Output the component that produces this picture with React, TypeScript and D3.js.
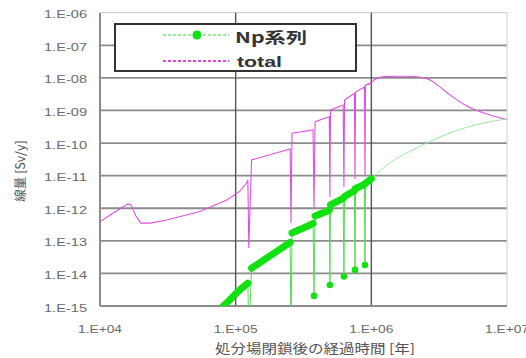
import React from 'react';
import * as d3 from 'd3';

const xTickValues = [1e4, 1e5, 1e6, 1e7];
const xTickLabels = ['1.E+04', '1.E+05', '1.E+06', '1.E+07'];
const yTickValues = [1e-6, 1e-7, 1e-8, 1e-9, 1e-10, 1e-11, 1e-12, 1e-13, 1e-14, 1e-15];
const yTickLabels = ['1.E-06', '1.E-07', '1.E-08', '1.E-09', '1.E-10', '1.E-11', '1.E-12', '1.E-13', '1.E-14', '1.E-15'];
const darkGridTimes = [1e5, 1e6];

const dipTimes = [1.25e5, 2.56e5, 3.78e5, 4.95e5, 6.28e5, 7.58e5, 8.98e5];

const npTime = [8.0e4, 9.0e4, 1.0e5, 1.1e5, 1.23e5, 1.25e5, 1.31e5, 1.5e5, 1.8e5, 2.1e5, 2.52e5, 2.56e5,
  2.6e5, 3.0e5, 3.4e5, 3.72e5, 3.78e5, 3.85e5, 4.4e5, 4.9e5, 4.95e5, 5.0e5, 5.6e5, 6.2e5, 6.28e5,
  6.35e5, 7.5e5, 7.58e5, 7.65e5, 8.9e5, 8.98e5, 9.05e5, 1.0e6];
const npValue = [9.4e-16, 1.5e-15, 2.37e-15, 3.44e-15, 5.0e-15, 1e-16, 1.44e-14, 2.1e-14, 3.5e-14, 5.4e-14, 9.0e-14, 1e-16,
  1.75e-13, 2.25e-13, 2.86e-13, 3.42e-13, 2.04e-15, 5.8e-13, 7.2e-13, 8.7e-13, 4.4e-15, 1.26e-12, 1.62e-12, 2.0e-12, 8.0e-15,
  2.3e-12, 3.44e-12, 1.28e-14, 4.05e-12, 5.37e-12, 1.82e-14, 5.85e-12, 7.94e-12];
const npTailTime = [1.0e6, 1.2e6, 1.4e6, 2.17e6, 3.8e6, 6.65e6, 1.0e7];
const npTailValue = [7.94e-12, 1.6e-11, 2.6e-11, 7.1e-11, 2.04e-10, 4.1e-10, 5.5e-10];

const totalTime = [1.0e4, 1.29e4, 1.61e4, 1.69e4, 1.84e4, 2.0e4, 2.34e4, 3.1e4, 5.46e4, 8.6e4, 1.08e5, 1.2e5, 1.23e5,
  1.25e5, 1.31e5, 2.52e5, 2.56e5, 2.6e5, 3.72e5, 3.78e5, 3.85e5, 4.9e5, 4.95e5, 5.0e5, 6.2e5, 6.28e5, 6.35e5, 7.5e5,
  7.58e5, 7.65e5, 8.9e5, 8.98e5, 9.05e5, 1.0e6, 1.05e6, 1.25e6, 1.6e6, 2.0e6, 2.45e6, 2.7e6, 3.2e6, 3.8e6, 5.05e6, 7.5e6, 1.0e7];
const totalValue = [3.9e-13, 7.7e-13, 1.36e-12, 1.26e-12, 5.8e-13, 3.5e-13, 3.5e-13, 4.37e-13, 7.9e-13, 1.8e-12, 3.4e-12, 5.85e-12, 7.4e-12,
  6.05e-14, 3.03e-11, 6.6e-11, 3.54e-13, 2.0e-10, 2.52e-10, 1.02e-12, 4.53e-10, 6.45e-10, 2.22e-12, 1.04e-9, 1.47e-9, 4.5e-12, 2.1e-9, 3.37e-9,
  7.9e-12, 3.7e-9, 5.26e-9, 1.05e-11, 6.05e-9, 7.0e-9, 8.8e-9, 1.09e-8, 1.12e-8, 1.1e-8, 1.0e-8, 8.6e-9, 5.3e-9, 3.0e-9, 1.37e-9, 7.3e-10, 5.3e-10];

const seriesNames = ['Np系列', 'total'];
const xTitle = '処分場閉鎖後の経過時間 [年]';
const yTitle = '線量 [Sv/y]';

const L = 100, R = 507, T = 12.7, B = 306;

export default function App() {
  const x = d3.scaleLog().domain([1e4, 1e7]).range([L, R]);
  const y = d3.scaleLog().domain([1e-15, 1e-6]).range([B, T]);
  const line = d3.line<[number, number]>().x(d => x(d[0])).y(d => y(d[1]));
  const smooth = d3.line<[number, number]>().x(d => x(d[0])).y(d => y(d[1])).curve(d3.curveMonotoneX);

  const npPts: [number, number][] = npTime.map((t, i) => [t, npValue[i]]);
  const isDip = (t: number) => dipTimes.includes(t);
  const runs: [number, number][][] = [];
  let cur: [number, number][] = [];
  npPts.forEach(p => {
    if (isDip(p[0])) { if (cur.length) runs.push(cur); cur = []; }
    else cur.push(p);
  });
  if (cur.length) runs.push(cur);
  const dipPts = npPts.filter(p => isDip(p[0]));
  const tailPts: [number, number][] = npTailTime.map((t, i) => [t, npTailValue[i]]);
  const totalPts: [number, number][] = totalTime.map((t, i) => [t, totalValue[i]]);
  const totalEarly = totalPts.filter(p => p[0] <= 1e6);
  const totalLate = totalPts.filter(p => p[0] >= 9.05e5);

  const tickFont = '"Liberation Sans", Arial, sans-serif';
  const cjkFont = '"Noto Sans CJK JP", sans-serif';

  return (
    <svg width={526} height={358} style={{ position: 'absolute', left: 0, top: 0, background: '#fff' }}>
      <defs>
        <clipPath id="plot"><rect x={L} y={T - 1} width={R - L} height={B - T + 1} /></clipPath>
      </defs>
      <rect x={0} y={0} width={526} height={358} fill="#fff" />
      {yTickValues.map((v, i) => (
        <line key={'h' + i} x1={L} x2={R} y1={y(v)} y2={y(v)}
          stroke={i === 0 ? '#c8c8c8' : '#8c8c8c'} strokeWidth={i === 0 ? 1 : 1.8} />
      ))}
      <line x1={R} x2={R} y1={T} y2={B} stroke="#cfcfcf" strokeWidth={1} />
      {darkGridTimes.map((t, i) => (
        <line key={'v' + i} x1={x(t)} x2={x(t)} y1={T} y2={B} stroke="#555" strokeWidth={1.4} />
      ))}
      <line x1={L} x2={L} y1={T} y2={B} stroke="#8c8c8c" strokeWidth={2} />
      <line x1={L} x2={R} y1={B} y2={B} stroke="#8c8c8c" strokeWidth={2} />

      <g clipPath="url(#plot)">
        <path d={line(totalEarly) || ''} fill="none" stroke="#e050e0" strokeWidth={1.1} />
        <path d={smooth(totalLate) || ''} fill="none" stroke="#e050e0" strokeWidth={1.1} />
        <path d={smooth(tailPts) || ''} fill="none" stroke="#9ae89a" strokeWidth={1} />
        <path d={line(npPts) || ''} fill="none" stroke="#55dd55" strokeWidth={1} />
        {runs.map((r, i) => (
          <path key={'r' + i} d={line(r) || ''} fill="none" stroke="#11e011" strokeWidth={7}
            strokeLinecap="round" strokeLinejoin="round" />
        ))}
        {dipPts.map((p, i) => (
          <circle key={'d' + i} cx={x(p[0])} cy={y(p[1])} r={3.3} fill="#11e011" />
        ))}
      </g>

      {yTickValues.map((v, i) => (
        <text key={'yl' + i} x={44} y={y(v) + 5.5} fontFamily={tickFont} fontSize={10} fill="#6a6a6a"
          textLength={43} lengthAdjust="spacingAndGlyphs">{yTickLabels[i]}</text>
      ))}
      {xTickValues.map((t, i) => (
        <text key={'xl' + i} x={x(t) - 22} y={333} fontFamily={tickFont} fontSize={10} fill="#6a6a6a"
          textLength={44} lengthAdjust="spacingAndGlyphs">{xTickLabels[i]}</text>
      ))}

      <text x={215} y={353} fontFamily={cjkFont} fontSize={13} fill="#555" textLength={200}
        lengthAdjust="spacingAndGlyphs">{xTitle}</text>
      <text transform="translate(25,171) rotate(-90)" textAnchor="middle" fontFamily={cjkFont}
        fontSize={12.5} fill="#555">{yTitle}</text>

      <rect x={115} y={24} width={241} height={47} fill="#fff" stroke="#333" strokeWidth={2} />
      <line x1={163} x2={229} y1={35} y2={35} stroke="#33dd33" strokeWidth={1.2} strokeDasharray="3,2" />
      <circle cx={197} cy={35} r={4.5} fill="#11e011" />
      <line x1={163} x2={229} y1={61} y2={61} stroke="#dd44dd" strokeWidth={2.2} strokeDasharray="3,2" />
      <text x={235} y={43} fontFamily={cjkFont} fontSize={15} fontWeight="bold" fill="#333" textLength={72}
        lengthAdjust="spacingAndGlyphs">{seriesNames[0]}</text>
      <text x={237} y={67} fontFamily={tickFont} fontSize={14} fontWeight="bold" fill="#333" textLength={45}
        lengthAdjust="spacingAndGlyphs">{seriesNames[1]}</text>
    </svg>
  );
}
